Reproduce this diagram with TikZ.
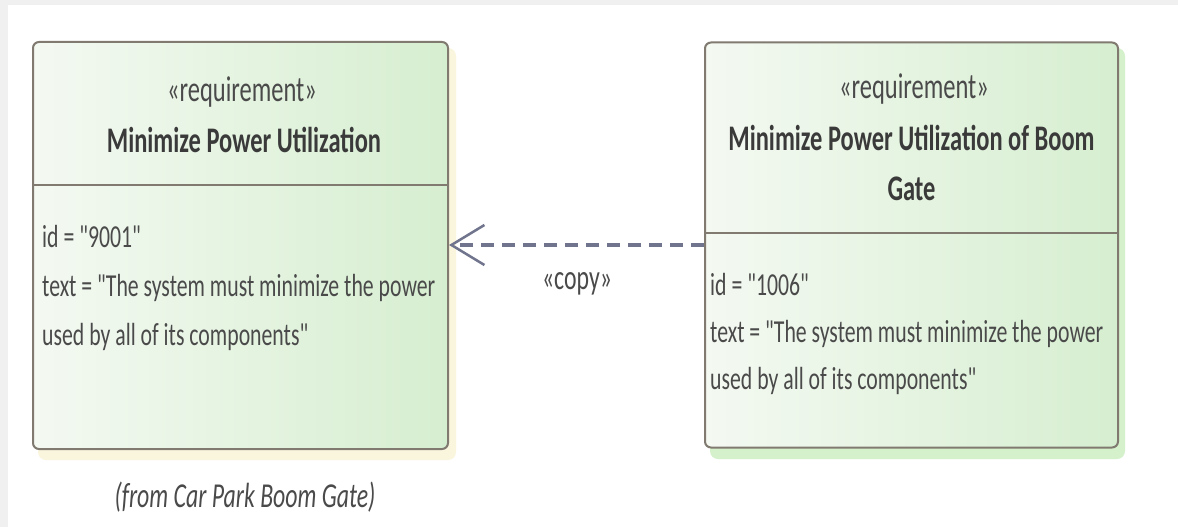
\documentclass[tikz,border=0pt]{standalone}
\usepackage{fontspec}
\setmainfont{Carlito}[FakeStretch=0.68, Ligatures=TeXOff]
\usetikzlibrary{arrows.meta}
\definecolor{pagegray}{RGB}{240,240,240}
\definecolor{boxleft}{RGB}{244,249,242}
\definecolor{boxright}{RGB}{214,238,208}
\definecolor{borderc}{RGB}{128,122,112}
\definecolor{txt}{RGB}{74,74,74}
\definecolor{titlec}{RGB}{58,58,58}
\definecolor{arrowc}{RGB}{112,116,140}
\definecolor{shadowy}{RGB}{250,246,222}
\definecolor{shadowg}{RGB}{212,241,203}
\begin{document}
\begin{tikzpicture}[x=1pt,y=-1pt,
  reqbox/.style={draw=borderc, line width=2pt, rounded corners=6pt, left color=boxleft, right color=boxright, inner sep=0pt},
  stereo/.style={font=\fontsize{36}{40}\selectfont, text=txt, inner sep=0pt, anchor=base},
  titletext/.style={font=\fontsize{36}{40}\selectfont\bfseries, text=titlec, inner sep=0pt, anchor=base},
  attr/.style={font=\fontsize{32}{40}\selectfont, text=txt, inner sep=0pt, anchor=base west},
  lbl/.style={font=\fontsize{35}{40}\selectfont, text=txt, inner sep=0pt, anchor=base},
  fromlbl/.style={font=\fontsize{35}{40}\selectfont\itshape, text=txt, inner sep=0pt, anchor=base},
  divider/.style={draw=borderc, line width=2pt},
  copyarrow/.style={draw=arrowc, line width=3.5pt, dash pattern=on 13pt off 8pt, -{Straight Barb[length=33pt,width=40pt,line width=2.5pt]}},
]
\useasboundingbox (0,0) rectangle (1178,527);
\fill[white] (0,0) rectangle (1178,527);
\fill[pagegray] (0,0) rectangle (1178,5);
\fill[pagegray] (0,0) rectangle (8,527);
% shadows
\fill[shadowy, rounded corners=8pt] (38,48) rectangle (456,460);
\fill[shadowg, rounded corners=8pt] (710,48) rectangle (1125,459);
% boxes
\node[reqbox, minimum width=415pt, minimum height=407pt] (L) at (240.5,245.5) {};
\node[reqbox, minimum width=413pt, minimum height=405pt] (R) at (911.5,245) {};
\coordinate (ldiv) at (0,185);
\coordinate (rdiv) at (0,233);
\draw[divider] (L.west |- ldiv) -- (L.east |- ldiv);
\draw[divider] (R.west |- rdiv) -- (R.east |- rdiv);
% left texts
\node[stereo] (Lst) at (242,101) {«requirement»};
\node[titletext] (Lti) at (244,152) {Minimize Power Utilization};
\node[attr] (La1) at (42,247) {id = "9001"};
\node[attr] (La2) at (42,296) {text = "The system must minimize the power};
\node[attr] (La3) at (42,345) {used by all of its components"};
% right texts
\node[stereo] (Rst) at (914,99) {«requirement»};
\node[titletext] (Rti1) at (911.5,150) {Minimize Power Utilization of Boom};
\node[titletext] (Rti2) at (911.5,200) {Gate};
\node[attr] (Ra1) at (710,295) {id = "1006"};
\node[attr] (Ra2) at (710,342) {text = "The system must minimize the power};
\node[attr] (Ra3) at (710,389) {used by all of its components"};
% connector
\coordinate (ay) at (0,245);
\draw[copyarrow] (R.west |- ay) -- (L.east |- ay);
\node[lbl] (cp) at (577,289) {«copy»};
\node[fromlbl] (from) at (245,507) {(from Car Park Boom Gate)};
\end{tikzpicture}
\end{document}
